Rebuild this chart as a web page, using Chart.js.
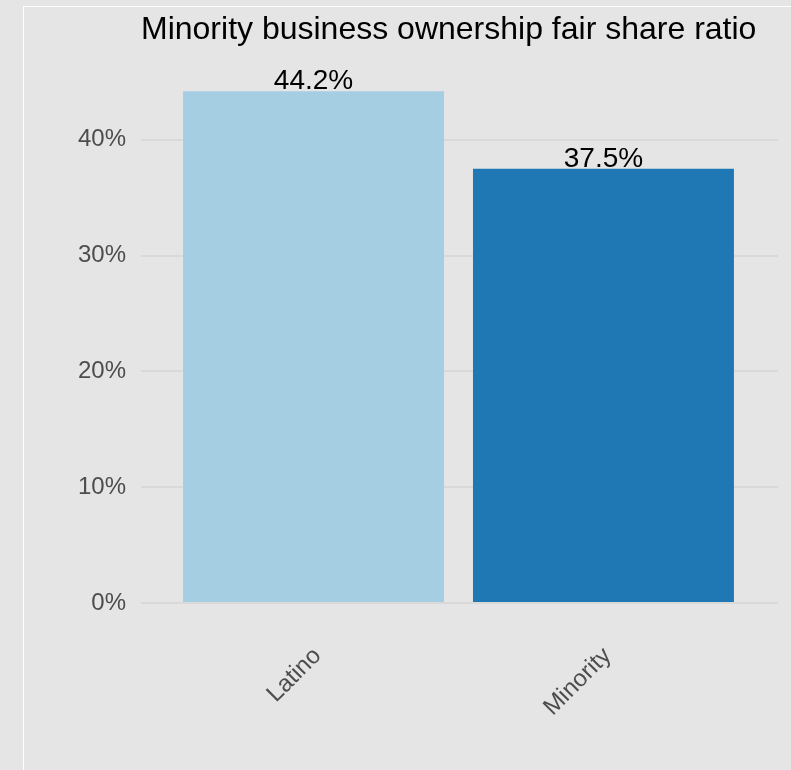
<!DOCTYPE html>
<html>
<head>
<meta charset="utf-8">
<script src="https://cdn.jsdelivr.net/npm/chart.js@4.4.0/dist/chart.umd.min.js"></script>
<style>
  html, body { margin: 0; padding: 0; background: #e5e5e5; }
  #c { display: block; }
</style>
</head>
<body>
<canvas id="c" width="791" height="770"></canvas>
<script>
// Chart data
const categories = ['Latino', 'Minority'];
const fairShareRatio = [44.2, 37.5];          // percent
const barColors = ['#a6cee3', '#1f78b4'];
const yTicks = [0, 10, 20, 30, 40];
const chartTitle = 'Minority business ownership fair share ratio';

const FONT = '"Liberation Sans", Arial, Helvetica, sans-serif';

// Plot background and the white panel edge
const backdrop = {
  id: 'backdrop',
  beforeDraw(chart) {
    const { ctx, width, height } = chart;
    ctx.save();
    ctx.fillStyle = '#e5e5e5';
    ctx.fillRect(0, 0, width, height);
    ctx.fillStyle = '#ffffff';
    ctx.fillRect(23, 6, width - 23, 1);
    ctx.fillRect(23, 6, 1, height - 6);
    ctx.restore();
  }
};

// Percentage labels above each bar
const valueLabels = {
  id: 'valueLabels',
  afterDatasetsDraw(chart) {
    const { ctx } = chart;
    const meta = chart.getDatasetMeta(0);
    ctx.save();
    ctx.font = '28px ' + FONT;
    ctx.fillStyle = '#000000';
    ctx.textAlign = 'center';
    ctx.textBaseline = 'alphabetic';
    meta.data.forEach((bar, i) => {
      ctx.fillText(fairShareRatio[i].toFixed(1) + '%', bar.x, bar.y - 2);
    });
    ctx.restore();
  }
};

new Chart(document.getElementById('c'), {
  type: 'bar',
  data: {
    datasets: [{
      data: fairShareRatio.map((v, i) => ({ x: i, y: v })),
      backgroundColor: barColors,
      borderWidth: 0,
      barPercentage: 0.9,
      categoryPercentage: 1.0
    }]
  },
  options: {
    responsive: false,
    animation: false,
    devicePixelRatio: 1,
    layout: { padding: { left: 0, right: 13, top: 0, bottom: 0 } },
    plugins: {
      legend: { display: false },
      tooltip: { enabled: false },
      title: {
        display: true,
        text: chartTitle,
        align: 'start',
        fullSize: false,
        color: '#000000',
        font: { family: FONT, size: 32, weight: 'normal', lineHeight: 1.2 },
        padding: { top: 11, bottom: 21 }
      }
    },
    scales: {
      x: {
        type: 'linear',
        offset: false,
        min: -0.595,
        max: 1.602,
        afterBuildTicks: s => { s.ticks = categories.map((_, i) => ({ value: i })); },
        afterFit: s => { s.height = 167; },
        grid: { display: false, drawTicks: false, offset: false },
        border: { display: false },
        ticks: {
          autoSkip: false,
          minRotation: 45,
          maxRotation: 45,
          padding: 39,
          labelOffset: 4,
          color: '#4d4d4d',
          font: { family: FONT, size: 24 },
          callback: v => categories[v] ?? ''
        }
      },
      y: {
        min: 0,
        max: 46,
        afterBuildTicks: s => { s.ticks = yTicks.map(v => ({ value: v })); },
        afterFit: s => { s.width = 141; },
        grid: { color: '#d9d9d9', lineWidth: 2, drawTicks: false },
        border: { display: false },
        ticks: {
          padding: 15,
          color: '#4d4d4d',
          font: { family: FONT, size: 24 },
          callback: v => v + '%'
        }
      }
    }
  },
  plugins: [backdrop, valueLabels]
});
</script>
</body>
</html>
